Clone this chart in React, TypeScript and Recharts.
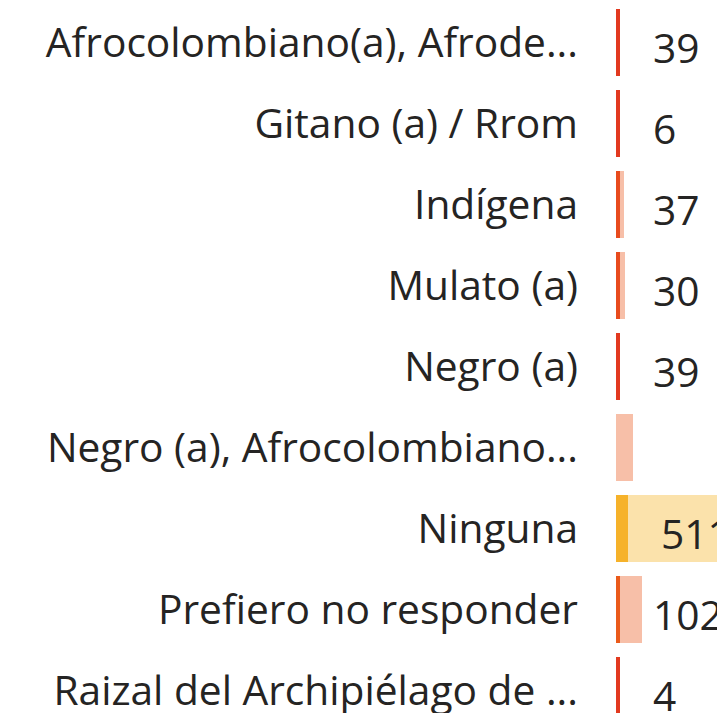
import React from "react";
import { BarChart, Bar, XAxis, YAxis, Cell, LabelList } from "recharts";

// grupos étnicos (etiquetas ya recortadas como en el visual original)
const categories = [
  "Afrocolombiano(a), Afrode...",
  "Gitano (a) / Rrom",
  "Indígena",
  "Mulato (a)",
  "Negro (a)",
  "Negro (a), Afrocolombiano...",
  "Ninguna",
  "Prefiero no responder",
  "Raizal del Archipiélago de ...",
];
// segmento oscuro y segmento claro de cada barra
const darkSeg = [4, 4, 4, 4, 4, 0, 12, 4, 4];
const lightSeg = [0, 0, 4, 5, 0, 17, 118, 22, 0];
// etiqueta de conteo
const counts: (number | null)[] = [39, 6, 37, 30, 39, null, 511, 102, 4];

const darkColors = ["#e2391f", "#e2391f", "#e84b1d", "#e84b1d", "#e2391f", "#e84b1d", "#f6b22a", "#ea5a1a", "#e2391f"];
const lightColors = ["#f7bfa8", "#f7bfa8", "#f7bfa8", "#f7bfa8", "#f7bfa8", "#f7bfa8", "#fbe2ab", "#f7bfa8", "#f7bfa8"];

const data = categories.map((c, i) => ({ name: c, dark: darkSeg[i], light: lightSeg[i], count: counts[i] }));

const FONT = "'Open Sans', 'Noto Sans', sans-serif";
const FS = 40.7;

const CountLabel = (props: any) => {
  const { x, y, width, height, value } = props;
  if (value == null) return null;
  return (
    <text
      x={x + width + 33}
      y={y + height / 2 + 4}
      dominantBaseline="central"
      fontSize={FS}
      fontFamily={FONT}
      fill="#252423"
    >
      {value}
    </text>
  );
};

export default function App() {
  return (
    <div style={{ position: "absolute", left: 0, top: 0, width: 717, height: 713, overflow: "hidden", background: "#fff" }}>
      <BarChart
        layout="vertical"
        width={916}
        height={731}
        data={data}
        margin={{ top: 2, right: 0, bottom: 0, left: 0 }}
        barCategoryGap={7}
      >
        <XAxis type="number" hide domain={[0, 300]} />
        <YAxis
          type="category"
          dataKey="name"
          width={616}
          interval={0}
          axisLine={false}
          tickLine={false}
          tickSize={0}
          tickMargin={38}
          tick={{ fontSize: FS, fontFamily: FONT, fill: "#252423" }}
        />
        <Bar dataKey="dark" stackId="a" isAnimationActive={false}>
          {data.map((d, i) => (
            <Cell key={i} fill={darkColors[i]} />
          ))}
          <LabelList dataKey="count" content={CountLabel} />
        </Bar>
        <Bar dataKey="light" stackId="a" isAnimationActive={false}>
          {data.map((d, i) => (
            <Cell key={i} fill={lightColors[i]} />
          ))}
        </Bar>
      </BarChart>
    </div>
  );
}
